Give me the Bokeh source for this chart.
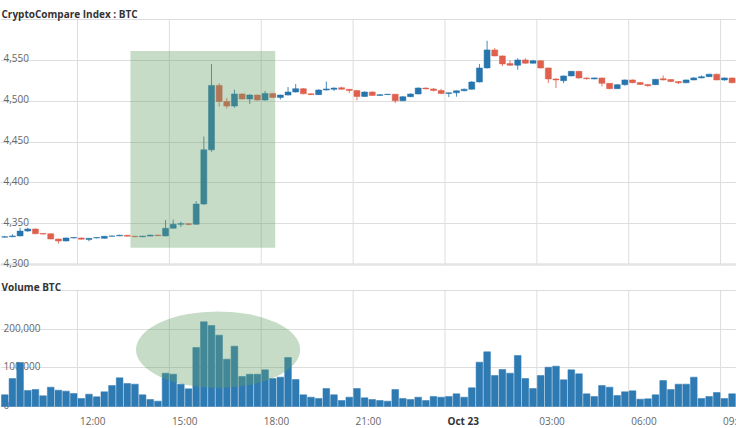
from bokeh.plotting import figure
from bokeh.layouts import column
from bokeh.models import Range1d, FixedTicker, BoxAnnotation, ColumnDataSource, Span
from bokeh.embed import file_html
from bokeh.resources import INLINE
from bokeh.core.properties import value

# ---------------- data (15-minute candles, Oct 22 09:30 -> Oct 23 09:15) ----------------
start_hour = 9.5          # hours since Oct 22 00:00
bar_hours = 0.25

opens = [4333.5, 4334, 4335, 4341, 4343.5, 4338, 4337.7, 4331.2, 4328.8, 4332.5,
         4332.5, 4330.5, 4332.5, 4332, 4334.5, 4335, 4335.8, 4334.6, 4334, 4334.8,
         4336, 4335, 4344.3, 4349.3, 4350, 4349.3, 4374, 4440.4, 4519.3, 4499.7,
         4494, 4508.8, 4502.6, 4507.5, 4501.4, 4509.5, 4504.6, 4507.5, 4511.2, 4515.3,
         4509, 4508, 4513.7, 4514.5, 4516.5, 4514.5, 4513, 4505.8, 4511.2, 4507,
         4508, 4508.5, 4500.5, 4505.5, 4508.8, 4516, 4515, 4513, 4509.5, 4510.2,
         4512.7, 4514.6, 4523.5, 4540.7, 4562.8, 4555.4, 4546, 4544, 4550.5, 4546.5,
         4549.4, 4540.7, 4527.2, 4525.1, 4530.9, 4536.5, 4528.4, 4527.2, 4528.4, 4521.8,
         4515.3, 4520.2, 4526, 4522.8, 4520.5, 4520.2, 4527.5, 4526.5, 4524, 4522.5,
         4526, 4528.5, 4530, 4533, 4526, 4528.4]
highs = [4335, 4337, 4345, 4345, 4344, 4338.5, 4338, 4331.5, 4333, 4333.5,
         4333, 4332.5, 4333.5, 4335, 4335.5, 4336.5, 4336, 4335, 4335, 4336.5,
         4336.5, 4354.5, 4355, 4352.5, 4350.5, 4377.6, 4456.7, 4545.6, 4522, 4504,
         4514, 4509.5, 4508.5, 4508, 4512.6, 4510, 4508, 4517.3, 4521, 4516,
         4509.5, 4514.5, 4524, 4517, 4517.5, 4515, 4513.5, 4512, 4512, 4508.5,
         4509, 4509, 4506, 4509.5, 4517, 4517, 4516, 4515, 4510.5, 4513,
         4515.5, 4524.5, 4545.6, 4574, 4565, 4556, 4550, 4552.5, 4552.5, 4550.5,
         4550, 4541, 4528, 4531.5, 4537, 4537, 4529, 4529, 4529, 4522,
         4521, 4526.5, 4526.5, 4523.5, 4521, 4527, 4531.5, 4527, 4524.5, 4526.5,
         4529.5, 4531.5, 4533.5, 4533.5, 4529, 4529]
lows = [4333, 4333.5, 4334.5, 4340, 4337, 4336.5, 4331, 4325.5, 4328.3, 4332,
        4330.5, 4328.5, 4332, 4331.5, 4334, 4334.8, 4334.3, 4333.5, 4333.5, 4334.5,
        4335, 4334.5, 4344, 4346, 4348, 4348.5, 4373, 4438, 4493.5, 4491,
        4492, 4502, 4496.5, 4500.5, 4500.5, 4504, 4502, 4507, 4510.5, 4508.5,
        4507.5, 4507.5, 4513, 4512.5, 4514, 4510, 4501, 4505, 4506.5, 4506.5,
        4507.5, 4497.7, 4500, 4505, 4508.5, 4514.5, 4512, 4508.5, 4505, 4505.5,
        4512, 4514, 4523, 4540, 4555, 4543, 4543.5, 4538.6, 4546, 4546,
        4540, 4522.3, 4516.1, 4522, 4530.5, 4527.5, 4526.5, 4526.8, 4518, 4514.5,
        4515, 4519, 4522, 4520, 4517.5, 4519.8, 4525.5, 4523.5, 4521, 4522,
        4525.5, 4528, 4529.5, 4525.5, 4525, 4522]
closes = [4334, 4335, 4341, 4343.5, 4337.7, 4337.2, 4331.2, 4328.8, 4332.5, 4333,
          4331, 4332, 4333, 4334.5, 4335, 4335.8, 4334.6, 4334, 4334.8, 4336,
          4335.3, 4344.3, 4349.3, 4350, 4349, 4374, 4440.4, 4519.3, 4499.7, 4494,
          4508.8, 4502.6, 4507.5, 4501.4, 4509.5, 4504.6, 4507.5, 4511.2, 4515.3, 4509,
          4508, 4513.7, 4515, 4516, 4514.5, 4513, 4505.8, 4511.2, 4507, 4508,
          4508.5, 4500.5, 4505.5, 4508.8, 4516.1, 4515, 4513, 4509.5, 4510.2, 4512.7,
          4514.6, 4523.5, 4540.7, 4562.8, 4555.4, 4545.6, 4544, 4550.5, 4546.5, 4549.4,
          4540.7, 4527.2, 4526, 4530.9, 4536.5, 4528.4, 4527.5, 4528.5, 4521.8, 4515.3,
          4520.2, 4526, 4522.6, 4520.5, 4519, 4526.7, 4526, 4524, 4522.5, 4526,
          4528.5, 4530, 4533, 4526, 4528.5, 4522.6]
volumes = [30200, 72400, 113800, 41400, 44000, 27600, 50000, 42200, 39700, 33600,
           20700, 31900, 25000, 37900, 54300, 74100, 59500, 57800, 30200, 18100,
           13800, 86200, 83600, 57800, 45700, 152600, 219000, 209500, 184500, 122400,
           156000, 77600, 83600, 83600, 94800, 72400, 75900, 126700, 69800, 30200,
           24100, 20700, 46500, 30200, 15500, 24100, 46500, 22400, 18100, 15500,
           13800, 44000, 20700, 18100, 24100, 15500, 25900, 24100, 25900, 32800,
           24100, 48300, 114600, 141400, 80200, 95700, 86200, 131900, 72400, 46500,
           80200, 101700, 104300, 69000, 94800, 84500, 32800, 25900, 54300, 50000,
           28400, 37900, 40500, 19000, 19800, 30200, 67200, 44000, 57800, 57800,
           75900, 20700, 25900, 36200, 20700, 32800]

price_min, price_max = 4300, 4600
price_ticks = [4300, 4350, 4400, 4450, 4500, 4550]
price_tick_labels = ["4,300", "4,350", "4,400", "4,450", "4,500", "4,550"]
volume_min, volume_max = 0, 300000
volume_ticks = [0, 100000, 200000]
volume_tick_labels = ["0", "100,000", "200,000"]
time_ticks = [12, 15, 18, 21, 24, 27, 30, 33]
time_tick_labels = ["12:00", "15:00", "18:00", "21:00", "Oct 23", "03:00", "06:00", "09:00"]
price_title = "CryptoCompare Index : BTC"
volume_title = "Volume BTC"

# ---------------- styling ----------------
FONT = "Open Sans"
UP = "#2775ae"
DOWN = "#e0604e"
VOL = "#2e7ab3"
GREEN = "#64a064"
GRID = "#dddddd"
LABEL_COLOR = "#666666"
TITLE_COLOR = "#333333"


def padded(lo, hi, plot_h, pad_top, pad_bottom):
    inner = plot_h - pad_top - pad_bottom
    per_px = (hi - lo) / inner
    return Range1d(lo - pad_bottom * per_px, hi + pad_top * per_px)


n = len(opens)
centers = [start_hour + bar_hours * i + bar_hours / 2 for i in range(n)]
colors = [UP if c >= o else DOWN for o, c in zip(opens, closes)]
src = ColumnDataSource(dict(
    x=centers,
    top=[max(o, c) for o, c in zip(opens, closes)],
    bottom=[min(o, c) for o, c in zip(opens, closes)],
    high=highs, low=lows, color=colors, vol=volumes,
))

x_range = Range1d(9.485, 33.52)


def base_fig(h, y_range):
    p = figure(width=736, height=h, x_range=x_range, y_range=y_range,
               output_backend="svg", toolbar_location=None,
               x_axis_location=None, y_axis_location=None)
    p.min_border = 0
    p.min_border_left = 0
    p.min_border_right = 0
    p.min_border_top = 0
    p.min_border_bottom = 0
    p.outline_line_color = None
    p.background_fill_color = "white"
    p.border_fill_color = "white"
    p.xgrid.visible = False
    p.ygrid.grid_line_color = GRID
    return p


# ---------------- price chart ----------------
p1 = base_fig(270, padded(price_min, price_max, 270, 19, 6))
p1.ygrid.ticker = FixedTicker(ticks=price_ticks + [price_max])
p1.add_layout(Span(location=price_min, dimension="width", line_color="#e4e4e4",
                   line_width=2.5, level="underlay"))
p1.segment(x0=time_ticks, y0=[price_min] * len(time_ticks), x1=time_ticks,
           y1=[price_max] * len(time_ticks), line_color=GRID, line_width=1)

p1.text(x=[x_range.start] * len(price_ticks), y=price_ticks, text=price_tick_labels,
        text_font=value(FONT), text_font_size="10px", text_color=LABEL_COLOR,
        text_baseline="alphabetic", text_align="left", x_offset=3, y_offset=-2)

p1.segment(x0="x", y0="low", x1="x", y1="high", color="color", line_width=1,
           line_alpha=0.85, source=src)
p1.vbar(x="x", width=0.196, top="top", bottom="bottom", fill_color="color",
        line_color="color", line_alpha=0.5, line_width=1, source=src)

p1.add_layout(BoxAnnotation(left=13.73, right=18.456, bottom=4320.5, top=4561.4,
                            fill_color=GREEN, fill_alpha=0.37, line_color=None))

p1.text(x=[x_range.start], y=[price_max], text=[price_title],
        text_font=value(FONT), text_font_size="10px", text_font_style="bold",
        text_color=TITLE_COLOR, text_baseline="alphabetic", text_align="left",
        x_offset=1, y_offset=-5.7)

# ---------------- volume chart ----------------
p2 = base_fig(158, padded(volume_min, volume_max, 158, 20, 22))
p2.ygrid.ticker = FixedTicker(ticks=volume_ticks + [volume_max])
p2.segment(x0=time_ticks, y0=[volume_min] * len(time_ticks), x1=time_ticks,
           y1=[volume_max] * len(time_ticks), line_color=GRID, line_width=1)

p2.text(x=[x_range.start] * len(volume_ticks), y=volume_ticks, text=volume_tick_labels,
        text_font=value(FONT), text_font_size="10px", text_color=LABEL_COLOR,
        text_baseline="alphabetic", text_align="left", x_offset=3, y_offset=-1.5)

p2.vbar(x="x", width=0.218, top="vol", bottom=0, fill_color=VOL,
        line_color=VOL, line_alpha=0.5, line_width=1, source=src)

p2.ellipse(x=16.59, y=147000, width=5.36, height=198000,
           fill_color=GREEN, fill_alpha=0.37, line_color=None)

p2.text(x=[x_range.start], y=[volume_max], text=[volume_title],
        text_font=value(FONT), text_font_size="10px", text_font_style="bold",
        text_color=TITLE_COLOR, text_baseline="alphabetic", text_align="left",
        x_offset=1, y_offset=-4)

is_date = [lab.startswith("Oct") for lab in time_tick_labels]
p2.text(x=time_ticks, y=[volume_min] * len(time_ticks), text=time_tick_labels,
        text_font=value(FONT), text_font_size="10px",
        text_font_style=["bold" if d else "normal" for d in is_date],
        text_color=[TITLE_COLOR if d else LABEL_COLOR for d in is_date],
        text_baseline="alphabetic", text_align="left", x_offset=2.5, y_offset=14.7)

layout = column(p1, p2)
open("out.html", "w").write(file_html(layout, INLINE))
